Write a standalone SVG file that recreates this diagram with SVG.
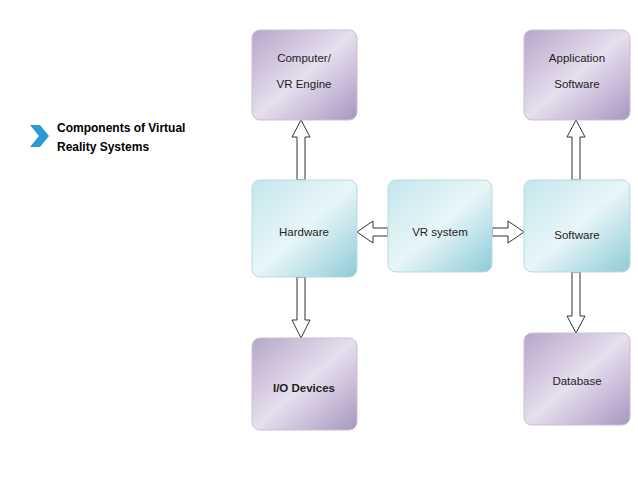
<svg xmlns="http://www.w3.org/2000/svg" width="638" height="479" viewBox="0 0 638 479">
<defs>
<linearGradient id="pu" x1="0" y1="0" x2="1" y2="1"><stop offset="0" stop-color="#b7a6c9"/><stop offset="0.5" stop-color="#e6dfee"/><stop offset="1" stop-color="#a896bf"/></linearGradient>
<linearGradient id="bl" x1="0" y1="0" x2="1" y2="1"><stop offset="0" stop-color="#c4e6ec"/><stop offset="0.5" stop-color="#e8f6f8"/><stop offset="1" stop-color="#8ecbd8"/></linearGradient>
<style>
.p{fill:url(#pu);stroke:#c9bfd6;stroke-width:1}
.b{fill:url(#bl);stroke:#b5dbe3;stroke-width:1}
.a{fill:#fff;stroke:#333;stroke-width:1}
text{font-family:"Liberation Sans",Arial,sans-serif;font-size:11.5px;fill:#222;text-anchor:middle}
.t{text-anchor:start;font-size:12px;font-weight:bold;fill:#000}
</style>
</defs>
<rect width="638" height="479" fill="#fff"/>
<g id="title">
<polygon points="30,125 40,125 49,136 40,147 30,147 39,136" fill="#2a9ad6"/>
<text class="t" x="57" y="132">Components of Virtual</text>
<text class="t" x="57" y="151">Reality Systems</text>
</g>
<g id="connectors">
<polygon class="a" points="297,180 297,137 292,137 301,120 310,137 305,137 305,180"/>
<polygon class="a" points="297,277 297,320 292,320 301,338 310,320 305,320 305,277"/>
<polygon class="a" points="388,228 373,228 373,221 357,232 373,243 373,236 388,236"/>
<polygon class="a" points="492,228 508,228 508,221 524,232 508,243 508,236 492,236"/>
<polygon class="a" points="572,180 572,137 567,137 576,120 585,137 580,137 580,180"/>
<polygon class="a" points="572,272 572,316 567,316 576,333 585,316 580,316 580,272"/>
</g>
<g id="computer"><rect class="p" x="252" y="30" width="105" height="90" rx="8"/><text x="304" y="62">Computer/</text><text x="304" y="88">VR Engine</text></g>
<g id="application"><rect class="p" x="524" y="30" width="106" height="90" rx="8"/><text x="577" y="62">Application</text><text x="577" y="88">Software</text></g>
<g id="hardware"><rect class="b" x="252" y="180" width="105" height="97" rx="8"/><text x="304" y="236">Hardware</text></g>
<g id="vrsystem"><rect class="b" x="388" y="180" width="104" height="92" rx="8"/><text x="440" y="236">VR system</text></g>
<g id="software"><rect class="b" x="524" y="180" width="106" height="92" rx="8"/><text x="577" y="239">Software</text></g>
<g id="io"><rect class="p" x="252" y="338" width="105" height="92" rx="8"/><text x="304" y="392" style="font-weight:bold">I/O  Devices</text></g>
<g id="database"><rect class="p" x="524" y="333" width="106" height="92" rx="8"/><text x="577" y="385">Database</text></g>
</svg>
